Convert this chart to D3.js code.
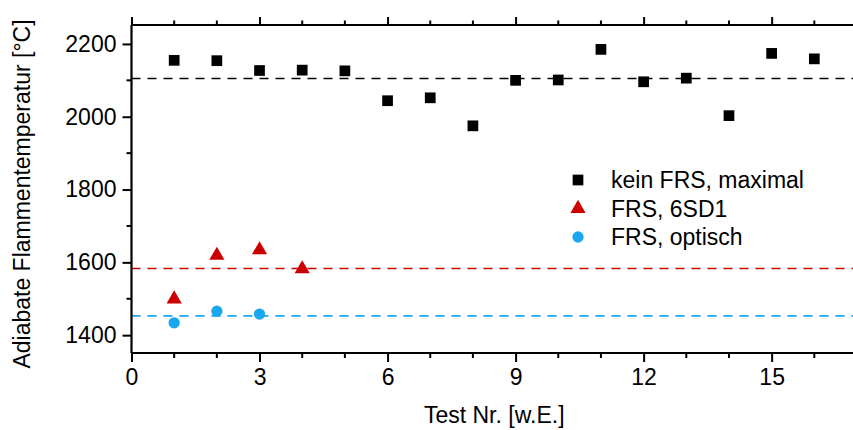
<!DOCTYPE html>
<html>
<head>
<meta charset="utf-8">
<script src="https://cdn.jsdelivr.net/npm/d3@7"></script>
<style>
  html, body { margin: 0; padding: 0; background: #fff; }
  svg { display: block; font-family: "Liberation Sans", Arial, sans-serif; }
</style>
</head>
<body>
<div id="chart"></div>
<script>
// values
const testsMax = [1, 2, 3, 4, 5, 6, 7, 8, 9, 10, 11, 12, 13, 14, 15, 16];
const tempMax = [2155, 2154, 2127, 2128, 2126, 2044, 2052, 1975, 2100, 2101, 2185, 2096, 2106, 2003, 2174, 2159];
const tests6SD1 = [1, 2, 3, 4];
const temp6SD1 = [1499, 1619, 1634, 1582];
const testsOpt = [1, 2, 3];
const tempOpt = [1434, 1466, 1458];
const meanLines = [2105, 1583, 1453];
const legendLabels = ["kein FRS, maximal", "FRS, 6SD1", "FRS, optisch"];
const yTicks = [1400, 1600, 1800, 2000, 2200];
const xTicks = [0, 3, 6, 9, 12, 15];

const colors = ["#000000", "#cc0000", "#1ba6f0"];

const width = 853, height = 430;
const margin = {left: 131.5, right: 0, top: 25, bottom: 77};

const svg = d3.select("#chart").append("svg")
    .attr("width", width)
    .attr("height", height);

const x = d3.scaleLinear().domain([0, 17]).range([margin.left, 857]);
const y = d3.scaleLinear().domain([1351, 2252]).range([height - margin.bottom, margin.top]);

const fs = 23;

// mean dashed lines
svg.append("g").selectAll("line.mean")
    .data(meanLines)
    .enter().append("line")
    .attr("class", "mean")
    .attr("x1", x(0))
    .attr("x2", width)
    .attr("y1", d => y(d))
    .attr("y2", d => y(d))
    .attr("stroke", (d, i) => colors[i])
    .attr("stroke-width", 1.6)
    .attr("stroke-dasharray", "9,7");

// axes
const xMinor = d3.range(0, 18, 1);
const yMinor = d3.range(1400, 2300, 100);

const bottomAx = svg.append("g")
    .attr("transform", `translate(0,${y.range()[0]})`)
    .call(d3.axisBottom(x).tickValues(xTicks).tickSize(9).tickPadding(7).tickFormat(d3.format("d")));
bottomAx.append("g").selectAll("line")
    .data(xMinor.filter(d => d % 3 !== 0))
    .enter().append("line")
    .attr("x1", d => x(d)).attr("x2", d => x(d))
    .attr("y1", 0).attr("y2", 5)
    .attr("stroke", "#000").attr("stroke-width", 2);

const topAx = svg.append("g")
    .attr("transform", `translate(0,${y.range()[1]})`)
    .call(d3.axisTop(x).tickValues(xTicks).tickSize(8).tickFormat(""));
topAx.append("g").selectAll("line")
    .data(xMinor.filter(d => d % 3 !== 0))
    .enter().append("line")
    .attr("x1", d => x(d)).attr("x2", d => x(d))
    .attr("y1", 0).attr("y2", -4.5)
    .attr("stroke", "#000").attr("stroke-width", 2);

const leftAx = svg.append("g")
    .attr("transform", `translate(${x(0)},0)`)
    .call(d3.axisLeft(y).tickValues(yTicks).tickSize(9).tickPadding(6).tickFormat(d3.format("d")));
leftAx.append("g").selectAll("line")
    .data(yMinor.filter(d => d % 200 !== 0))
    .enter().append("line")
    .attr("x1", 0).attr("x2", -5)
    .attr("y1", d => y(d)).attr("y2", d => y(d))
    .attr("stroke", "#000").attr("stroke-width", 2);

[bottomAx, topAx, leftAx].forEach(g => {
    g.select(".domain").attr("stroke-width", 2.2);
    g.selectAll(".tick line").attr("stroke-width", 2);
    g.selectAll("text").style("font-size", fs + "px").attr("fill", "#000");
});
// straight axis lines without d3's end caps
bottomAx.select(".domain").attr("d", `M${x(0)},0H${width}`);
topAx.select(".domain").attr("d", `M${x(0)},0H${width}`);
leftAx.select(".domain").attr("d", `M0,${y.range()[1]}V${y.range()[0]}`);

// axis titles
svg.append("text")
    .attr("x", (x(0) + 857) / 2)
    .attr("y", 423)
    .attr("text-anchor", "middle")
    .style("font-size", fs + "px")
    .text("Test Nr. [w.E.]");

svg.append("text")
    .attr("transform", `translate(30,${(y.range()[0] + y.range()[1]) / 2 + 5}) rotate(-90)`)
    .attr("text-anchor", "middle")
    .style("font-size", fs + "px")
    .text("Adiabate Flammentemperatur [°C]");

// symbols
const sq = d3.symbol().type(d3.symbolSquare).size(115);
const tri = d3.symbol().type(d3.symbolTriangle).size(100);
const circ = d3.symbol().type(d3.symbolCircle).size(100);

svg.append("g").selectAll("path")
    .data(testsMax.map((t, i) => [t, tempMax[i]]))
    .enter().append("path")
    .attr("d", sq)
    .attr("transform", d => `translate(${x(d[0])},${y(d[1])})`)
    .attr("fill", colors[0]);

svg.append("g").selectAll("path")
    .data(tests6SD1.map((t, i) => [t, temp6SD1[i]]))
    .enter().append("path")
    .attr("d", tri)
    .attr("transform", d => `translate(${x(d[0])},${y(d[1])})`)
    .attr("fill", colors[1]);

svg.append("g").selectAll("path")
    .data(testsOpt.map((t, i) => [t, tempOpt[i]]))
    .enter().append("path")
    .attr("d", circ)
    .attr("transform", d => `translate(${x(d[0])},${y(d[1])})`)
    .attr("fill", colors[2]);

// legend
const legendSyms = [sq, tri, circ];
const lg = svg.append("g").attr("transform", "translate(578,180)");
legendLabels.forEach((lbl, i) => {
    lg.append("path")
        .attr("d", legendSyms[i])
        .attr("transform", `translate(0,${i * 28.5})`)
        .attr("fill", colors[i]);
    lg.append("text")
        .attr("x", 33)
        .attr("y", i * 28.5)
        .attr("dy", "0.35em")
        .style("font-size", fs + "px")
        .text(lbl);
});
</script>
</body>
</html>
